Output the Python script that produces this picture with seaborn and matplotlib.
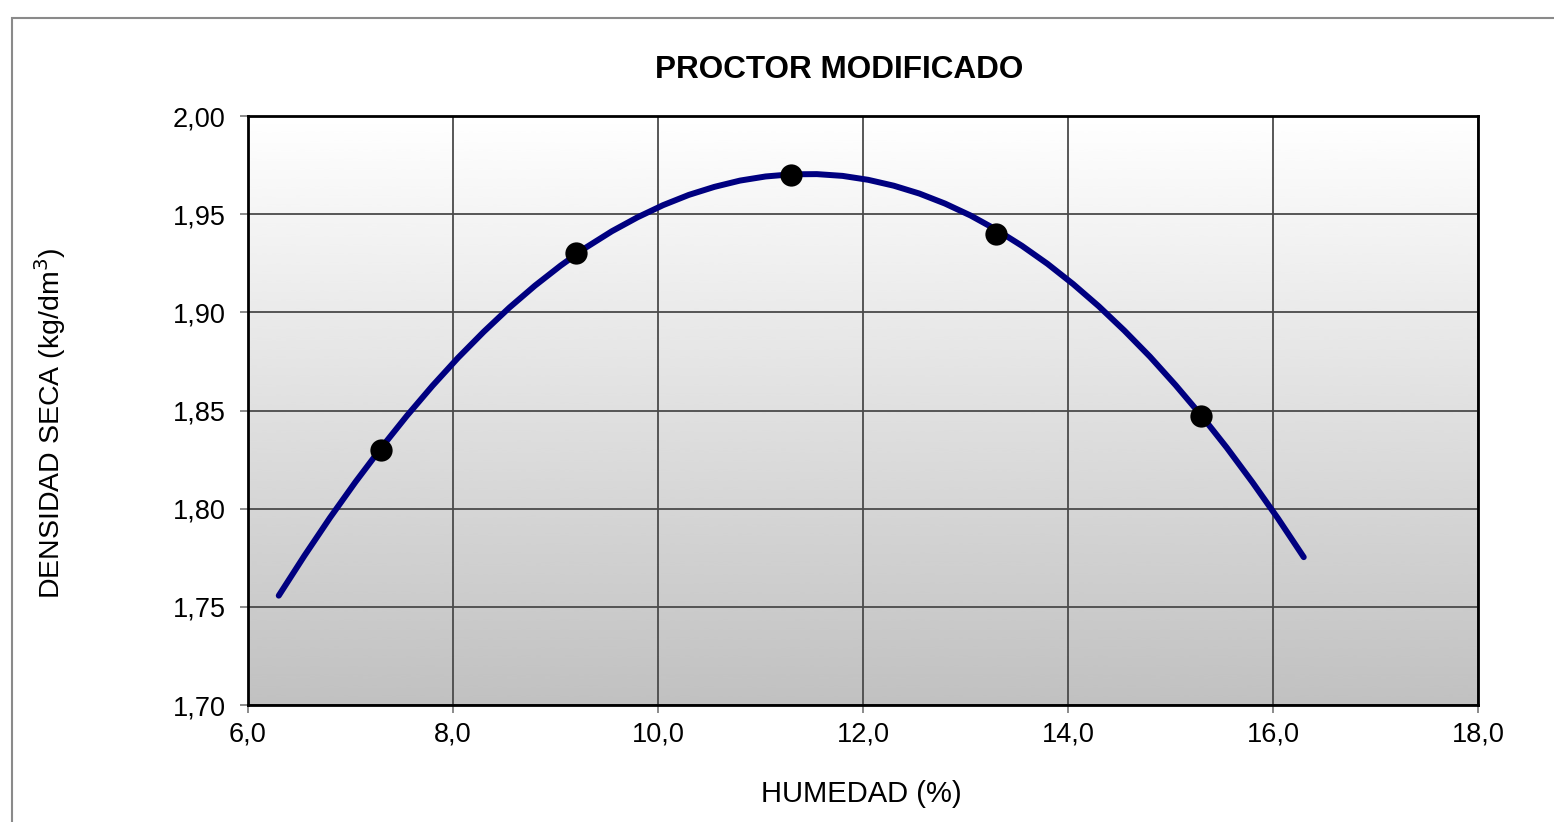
import numpy as np
import pandas as pd
import seaborn as sns
import matplotlib.pyplot as plt
from matplotlib.patches import Rectangle

sns.set_style('ticks')
plt.rcParams['font.family'] = ['Liberation Sans', 'DejaVu Sans']
plt.rcParams['text.color'] = 'black'
plt.rcParams['xtick.labelcolor'] = 'black'
plt.rcParams['ytick.labelcolor'] = 'black'

# ensayo: humedad (%) y densidad seca (kg/dm3)
humedad = [7.3, 9.2, 11.3, 13.3, 15.3]
densidad = [1.830, 1.930, 1.970, 1.940, 1.847]

# curva de ajuste (cada 0,25 %)
curva_x = [6.30, 6.55, 6.80, 7.05, 7.30, 7.55, 7.80, 8.05, 8.30, 8.55,
           8.80, 9.05, 9.30, 9.55, 9.80, 10.05, 10.30, 10.55, 10.80, 11.05,
           11.30, 11.55, 11.80, 12.05, 12.30, 12.55, 12.80, 13.05, 13.30,
           13.55, 13.80, 14.05, 14.30, 14.55, 14.80, 15.05, 15.30, 15.55,
           15.80, 16.05, 16.30]
curva_y = [1.7557, 1.7760, 1.7954, 1.8137, 1.8310, 1.8473, 1.8626, 1.8769,
           1.8901, 1.9024, 1.9136, 1.9238, 1.9331, 1.9413, 1.9484, 1.9546,
           1.9598, 1.9639, 1.9671, 1.9692, 1.9703, 1.9704, 1.9695, 1.9675,
           1.9645, 1.9605, 1.9554, 1.9493, 1.9421, 1.9339, 1.9247, 1.9144,
           1.9031, 1.8907, 1.8774, 1.8629, 1.8475, 1.8310, 1.8134, 1.7949,
           1.7753]

x_ticks = [6, 8, 10, 12, 14, 16, 18]
y_ticks = [1.70, 1.75, 1.80, 1.85, 1.90, 1.95, 2.00]

df_pts = pd.DataFrame({'humedad': humedad, 'densidad': densidad})
df_curva = pd.DataFrame({'x': curva_x, 'y': curva_y})

fig = plt.figure(figsize=(15.54, 8.22), dpi=100)
fig.patches.append(Rectangle((12 / 1554, -0.1), 1.2, 1.1 - 18 / 822,
                             transform=fig.transFigure, fill=False,
                             edgecolor='#8a8a8a', linewidth=1.5))
ax = fig.add_axes([248 / 1554, 1 - 705 / 822, 1230 / 1554, 589 / 822])

# fondo degradado
grad = np.linspace(1, 0, 256).reshape(-1, 1)
ax.imshow(grad, extent=[6, 18, 1.70, 2.00], aspect='auto', cmap='gray',
          vmin=-3.1, vmax=1, zorder=0, interpolation='bicubic')

sns.lineplot(data=df_curva, x='x', y='y', ax=ax, color='#000080',
             linewidth=4.3, zorder=3, sort=False)
ax.lines[-1].set_solid_capstyle('round')
ax.lines[-1].set_solid_joinstyle('round')
sns.scatterplot(data=df_pts, x='humedad', y='densidad', ax=ax, color='black',
                s=220, edgecolor='black', zorder=4)

ax.set_xlim(6, 18)
ax.set_ylim(1.70, 2.00)
ax.set_xticks(x_ticks)
ax.set_yticks(y_ticks)
ax.set_xticklabels([f'{v:.1f}'.replace('.', ',') for v in x_ticks])
ax.set_yticklabels([f'{v:.2f}'.replace('.', ',') for v in y_ticks])
ax.grid(True, color='#4a4a4a', linewidth=1.3)
for gl in ax.get_xgridlines() + ax.get_ygridlines():
    gl.set_zorder(1)
ax.tick_params(direction='out', length=6, width=1.2, color='#777777',
               labelsize=19.5)
ax.tick_params(axis='y', pad=10)
ax.tick_params(axis='x', pad=6)
for sp in ax.spines.values():
    sp.set_linewidth(2)
    sp.set_color('black')
    sp.set_zorder(5)
ax.set_xlabel('')
ax.set_ylabel('')

fig.text(839 / 1554, 1 - 70 / 822, 'PROCTOR MODIFICADO', ha='center',
         va='center', fontsize=22.7, fontweight='bold')
fig.text(861 / 1554, 1 - 794 / 822, 'HUMEDAD (%)', ha='center', va='center',
         fontsize=21)
fig.text(50 / 1554, 1 - 423 / 822, 'DENSIDAD SECA (kg/dm$^3$)', ha='center',
         va='center', fontsize=20.5, rotation=90)

fig.savefig('out.png', dpi=100)
